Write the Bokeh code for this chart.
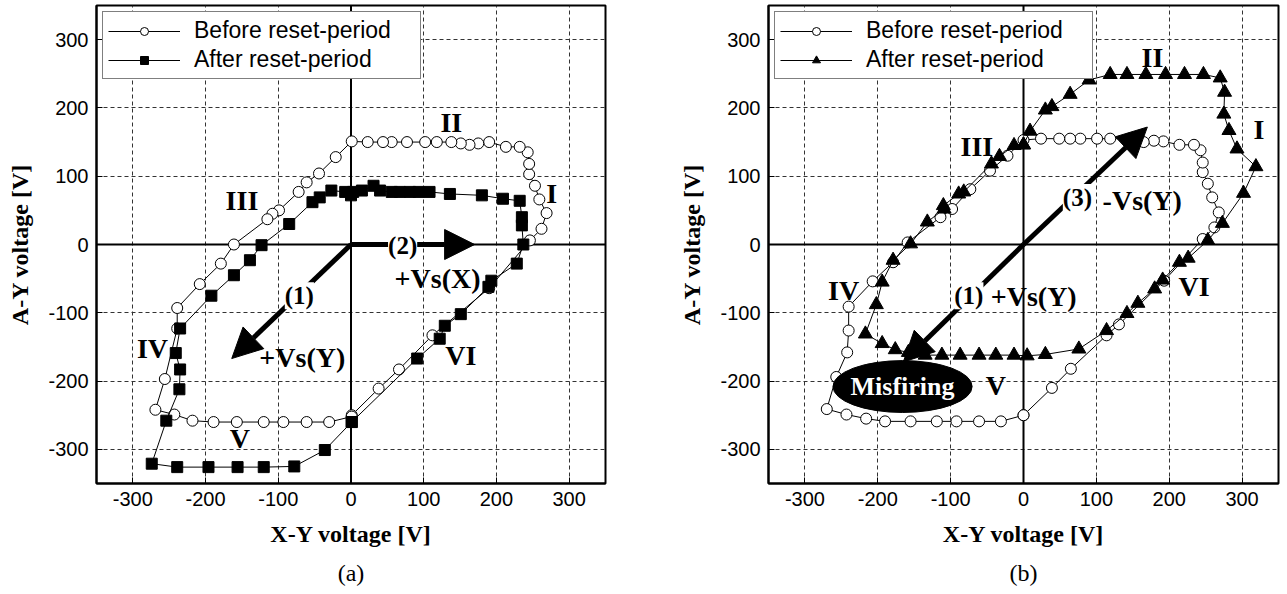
from bokeh.plotting import figure
from bokeh.layouts import row
from bokeh.models import Range1d, FixedTicker, Span, Arrow, NormalHead, Label, Title
from bokeh.embed import file_html
from bokeh.resources import INLINE

ticks = [-300, -200, -100, 0, 100, 200, 300]
tick_labels = ["-300", "-200", "-100", "0", "100", "200", "300"]
grid_ticks = [-300, -200, -100, 100, 200, 300]
label_before = "Before reset-period"
label_after = "After reset-period"

# ---- panel (a) ----
xa_before = [1, 38, 66, 112, 190, 246, 262, 269, 259, 253, 245, 245, 243, 232, 213, 190, 175, 163, 151,
             138, 118, 102, 77, 56, 44, 23, 1, -21, -44, -61, -72, -99, -108, -115, -161, -179, -208,
             -239, -239, -256, -269, -243, -218, -189, -157, -120, -93, -61, -30, 1]
ya_before = [-250, -211, -183, -133, -64, 6, 23, 46, 66, 86, 103, 118, 135, 143, 143, 150, 148, 146, 148,
             150, 150, 150, 150, 150, 150, 150, 151, 128, 104, 91, 77, 50, 45, 37, 0, -28, -58,
             -93, -123, -197, -242, -249, -258, -260, -260, -260, -260, -260, -260, -252]
xa_after = [1, 91, 122, 129, 151, 189, 193, 228, 237, 235, 235, 232, 209, 180, 136, 108, 93, 81, 67, 56,
            40, 31, 15, 3, 0, -8, -27, -43, -53, -85, -123, -139, -161, -192, -235, -241, -235, -236,
            -254, -274, -239, -196, -156, -120, -78, -36, 1]
ya_after = [-260, -167, -138, -119, -102, -62, -53, -28, 0, 28, 40, 64, 67, 72, 74, 77, 77, 77, 77, 77,
            79, 86, 79, 77, 72, 77, 79, 69, 62, 30, -1, -23, -45, -75, -123, -159, -183, -212,
            -258, -321, -326, -326, -326, -326, -325, -301, -260]

# ---- panel (b) ----
xb_before = [0, 39, 65, 114, 131, 193, 246, 262, 268, 259, 253, 246, 246, 243, 234, 214, 192, 179, 165,
             145, 119, 101, 78, 64, 49, 24, 0, -22, -46, -73, -98, -114, -159, -179, -207, -240, -240,
             -242, -257, -270, -243, -216, -190, -155, -119, -92, -61, -31, 0]
yb_before = [-250, -210, -182, -133, -117, -53, 8, 25, 47, 69, 89, 106, 120, 138, 146, 146, 151, 152, 150,
             155, 155, 155, 155, 155, 155, 155, 153, 130, 108, 81, 52, 40, 3, -26, -54, -91, -126,
             -158, -194, -241, -249, -255, -259, -259, -259, -259, -259, -259, -250]
xb_after = [0, 9, 30, 39, 64, 90, 119, 142, 168, 195, 221, 247, 270, 276, 275, 282, 293, 319, 302, 273,
            253, 226, 214, 191, 180, 157, 142, 114, 76, 30, 5, -13, -38, -61, -87, -112, -135, -158,
            -176, -194, -217, -202, -194, -179, -155, -132, -109, -110, -89, -82, -44, -33, -13, 0]
yb_after = [146, 166, 197, 202, 220, 241, 249, 249, 249, 249, 249, 249, 244, 223, 191, 167, 140, 114, 75, 31,
            6, -20, -26, -52, -65, -86, -101, -126, -153, -161, -163, -162, -162, -162, -162, -162, -162, -158,
            -154, -145, -131, -88, -55, -23, 1, 33, 52, 57, 74, 77, 118, 129, 145, 146]

SERIF = "Liberation Serif"
SANS = "Liberation Sans"


def make_fig(width, bl, br, sub):
    p = figure(width=width, height=594, x_range=Range1d(-350, 350), y_range=Range1d(-350, 350),
               output_backend="svg", toolbar_location=None, title=None,
               min_border_left=bl, min_border_right=br, min_border_top=5, min_border_bottom=111)
    p.xaxis.axis_label = "X-Y voltage [V]"
    p.yaxis.axis_label = "A-Y voltage [V]"
    for ax in (p.xaxis[0], p.yaxis[0]):
        ax.ticker = FixedTicker(ticks=ticks)
        ax.major_label_overrides = dict(zip(ticks, tick_labels))
        ax.major_tick_in = 6
        ax.major_tick_out = 0
        ax.major_tick_line_color = "black"
        ax.minor_tick_line_color = None
        ax.axis_line_color = "black"
        ax.axis_line_width = 2
        ax.axis_label_text_font = SERIF
        ax.axis_label_text_font_style = "bold"
        ax.axis_label_text_font_size = "24px"
        ax.axis_label_text_color = "black"
        ax.major_label_text_font = SANS
        ax.major_label_text_font_size = "20px"
        ax.major_label_text_color = "black"
        ax.major_label_standoff = 8
        ax.axis_label_standoff = 12
    for g in (p.xgrid[0], p.ygrid[0]):
        g.ticker = FixedTicker(ticks=grid_ticks)
        g.grid_line_color = "#333333"
        g.grid_line_dash = "4 3"
        g.grid_line_width = 1
    p.outline_line_color = "black"
    p.outline_line_width = 2
    p.background_fill_color = "white"
    p.add_layout(Span(location=0, dimension="height", line_color="black", line_width=2, level="underlay"))
    p.add_layout(Span(location=0, dimension="width", line_color="black", line_width=2, level="underlay"))
    t = Title(text=sub, align="center", text_font=SERIF, text_font_size="24px",
              text_font_style="normal", text_color="black", standoff=16)
    p.add_layout(t, "below")
    return p


def add_series(p, xb, yb, xa, ya, marker, msize):
    p.line(xb, yb, line_color="black", line_width=1, legend_label=label_before)
    p.scatter(xb, yb, marker="circle", size=11, fill_color="white", line_color="black",
              line_width=1, legend_label=label_before)
    p.line(xa, ya, line_color="black", line_width=1, legend_label=label_after)
    p.scatter(xa, ya, marker=marker, size=msize, fill_color="black", line_color="black",
              legend_label=label_after)
    lg = p.legend[0]
    lg.location = "top_left"
    lg.margin = 6
    lg.padding = 5
    lg.spacing = 2
    lg.glyph_width = 72
    lg.label_standoff = 14
    lg.label_width = 221
    lg.label_text_font = SANS
    lg.label_text_font_size = "23px"
    lg.label_text_color = "black"
    lg.border_line_color = "black"
    lg.border_line_width = 1.5
    lg.background_fill_alpha = 1


def txt(p, x, y, s, size="28px", bg=None, color="black"):
    lab = Label(x=x, y=y, text=s, text_font=SERIF, text_font_style="bold", text_font_size=size,
                text_align="center", text_baseline="middle", text_color=color)
    if bg:
        lab.background_fill_color = bg
    p.add_layout(lab)


def arrow(p, x0, y0, x1, y1):
    p.add_layout(Arrow(x_start=x0, y_start=y0, x_end=x1, y_end=y1, line_width=5, line_color="black",
                       end=NormalHead(size=30, fill_color="black", line_color="black")))


# panel (a)
pa = make_fig(640, 96, 35, "(a)")
add_series(pa, xa_before, ya_before, xa_after, ya_after, "square", 11)
arrow(pa, 0, 0, -164, -167)
arrow(pa, 0, 0, 170, 0)
txt(pa, -71, -75, "(1)", "25px", bg="white")
txt(pa, 71, -1, "(2)", "25px", bg="white")
txt(pa, -67, -165, "+Vs(Y)")
txt(pa, 119, -50, "+Vs(X)")
txt(pa, 138, 179, "II")
txt(pa, 276, 74, "I")
txt(pa, -150, 64, "III")
txt(pa, -273, -153, "IV")
txt(pa, -153, -284, "V")
txt(pa, 151, -162, "VI")

# panel (b)
pb = make_fig(647, 128, 9, "(b)")
add_series(pb, xb_before, yb_before, xb_after, yb_after, "triangle", 14)
arrow(pb, 0, 0, -165, -172)
arrow(pb, 0, 0, 170, 172)
pb.ellipse(x=[-166], y=[-208], width=[191], height=[76], fill_color="black", line_color="black")
txt(pb, -166, -208, "Misfiring", "26px", color="white")
txt(pb, -75, -75, "(1)", "25px", bg="white")
txt(pb, 14, -76, "+Vs(Y)")
txt(pb, 74, 69, "(3)", "25px", bg="white")
txt(pb, 163, 64, "-Vs(Y)")
txt(pb, 177, 274, "II")
txt(pb, 323, 169, "I")
txt(pb, -64, 143, "III")
txt(pb, -247, -67, "IV")
txt(pb, -38, -206, "V")
txt(pb, 234, -62, "VI")

layout = row(pa, pb)
open("out.html", "w").write(file_html(layout, INLINE))
